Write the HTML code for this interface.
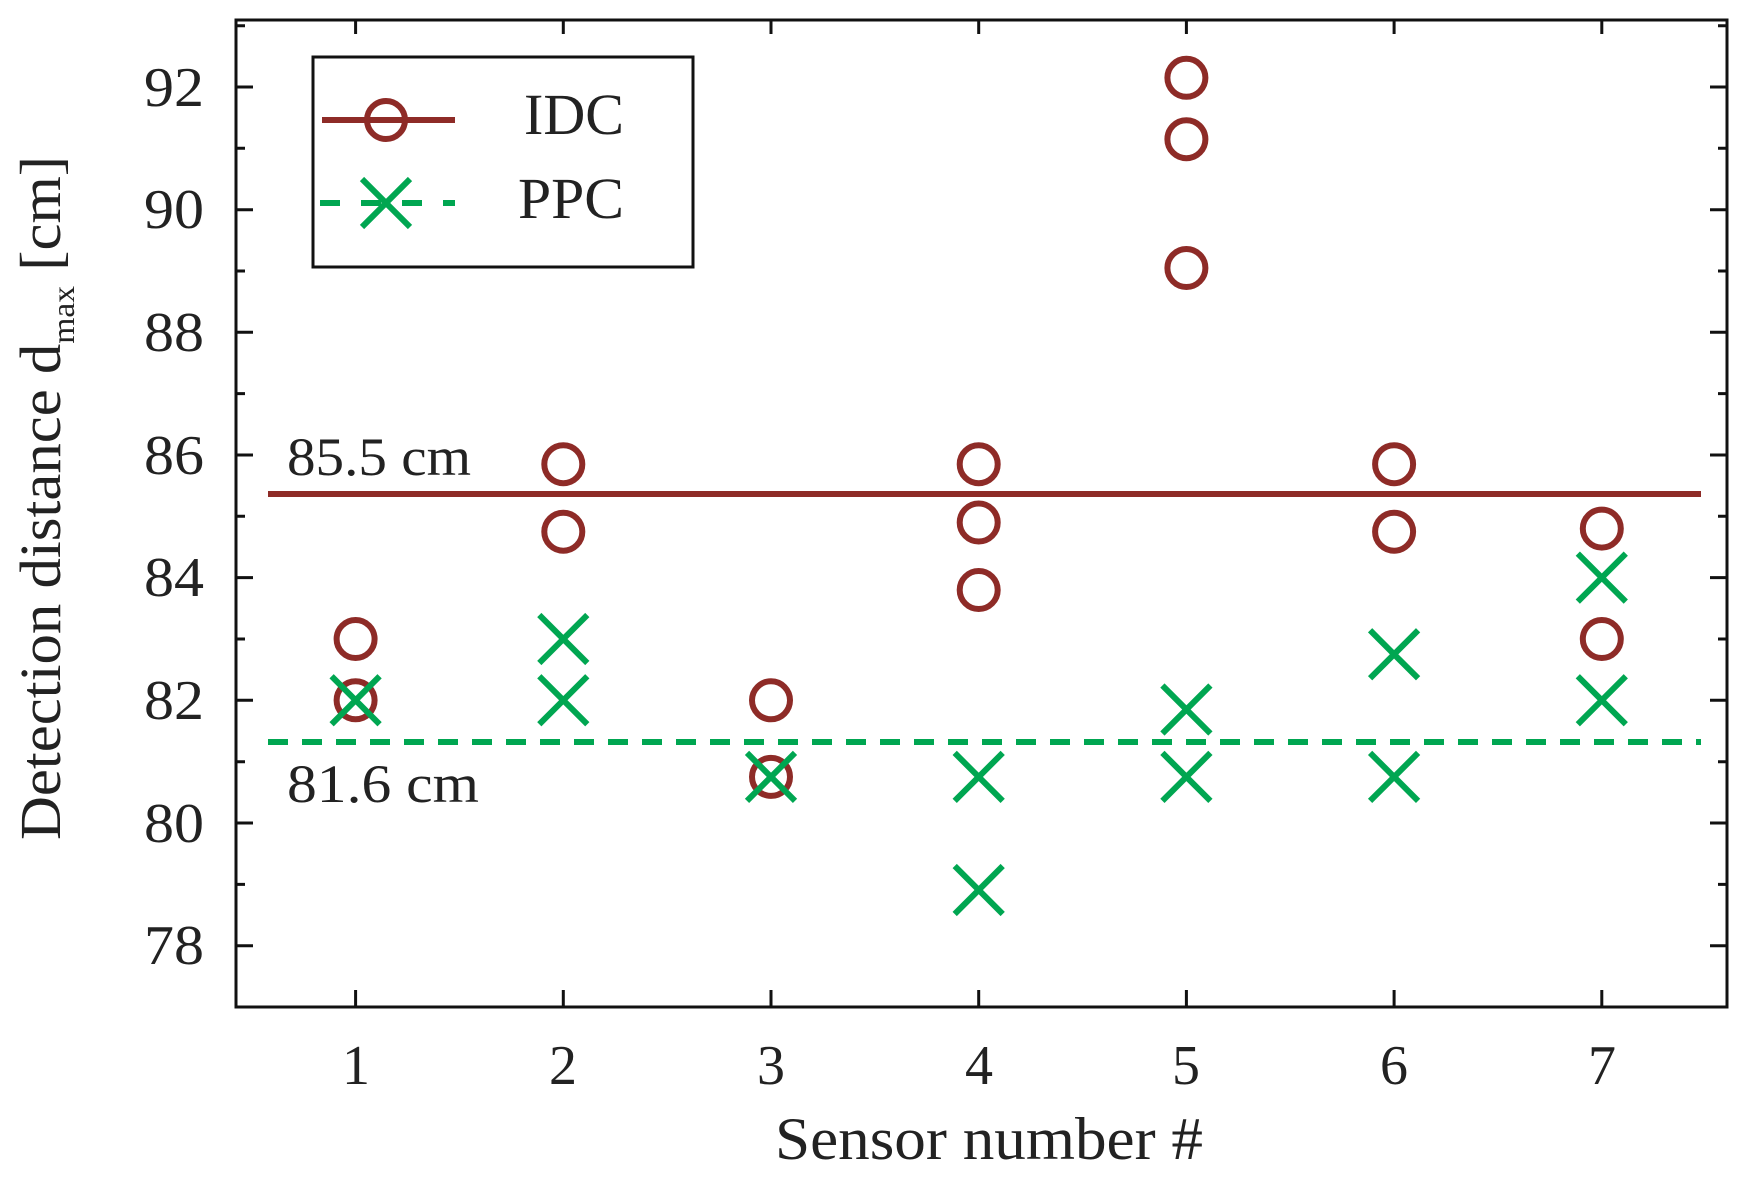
<!DOCTYPE html>
<html><head><style>body{margin:0;background:#fff}</style></head><body>
<svg width="1752" height="1188" xmlns="http://www.w3.org/2000/svg" font-family="Liberation Serif, serif" fill="#222">
<defs>
<g id="o"><circle r="19" fill="none" stroke="#8E2B27" stroke-width="6"/></g>
<g id="x" stroke="#00A651" stroke-width="6"><line x1="-24" y1="-24" x2="24" y2="24"/><line x1="-24" y1="24" x2="24" y2="-24"/></g>
</defs>
<g stroke="#111" stroke-width="3">
<rect x="236" y="20" width="1491" height="987" fill="none"/>
<path d="M236 945.7h17M236 823h17M236 700.3h17M236 577.6h17M236 455h17M236 332.3h17M236 209.7h17M236 87h17
M1727 945.7h-17M1727 823h-17M1727 700.3h-17M1727 577.6h-17M1727 455h-17M1727 332.3h-17M1727 209.7h-17M1727 87h-17
M236 884.4h9M236 761.7h9M236 639h9M236 516.3h9M236 393.6h9M236 271h9M236 148.3h9M236 25.7h9
M1727 884.4h-9M1727 761.7h-9M1727 639h-9M1727 516.3h-9M1727 393.6h-9M1727 271h-9M1727 148.3h-9M1727 25.7h-9
M355.6 1007v-17M563.3 1007v-17M771 1007v-17M978.7 1007v-17M1186.4 1007v-17M1394.1 1007v-17M1601.8 1007v-17
M355.6 20v14M563.3 20v14M771 20v14M978.7 20v14M1186.4 20v14M1394.1 20v14M1601.8 20v14"/>
</g>
<g font-size="56" text-anchor="end">
<text x="204" y="964" textLength="60" lengthAdjust="spacingAndGlyphs">78</text>
<text x="204" y="842" textLength="60" lengthAdjust="spacingAndGlyphs">80</text>
<text x="204" y="719" textLength="60" lengthAdjust="spacingAndGlyphs">82</text>
<text x="204" y="596" textLength="60" lengthAdjust="spacingAndGlyphs">84</text>
<text x="204" y="474" textLength="60" lengthAdjust="spacingAndGlyphs">86</text>
<text x="204" y="351" textLength="60" lengthAdjust="spacingAndGlyphs">88</text>
<text x="204" y="228" textLength="60" lengthAdjust="spacingAndGlyphs">90</text>
<text x="204" y="106" textLength="60" lengthAdjust="spacingAndGlyphs">92</text>
</g>
<g font-size="56" text-anchor="middle">
<text x="356" y="1084">1</text><text x="563" y="1084">2</text><text x="771" y="1084">3</text><text x="979" y="1084">4</text><text x="1186" y="1084">5</text><text x="1394" y="1084">6</text><text x="1602" y="1084">7</text>
</g>
<text x="775" y="1159" font-size="60" textLength="428" lengthAdjust="spacingAndGlyphs">Sensor number #</text>
<text transform="translate(60,840) rotate(-90)" font-size="58" textLength="684" lengthAdjust="spacingAndGlyphs">Detection distance d<tspan font-size="32" dy="14">max</tspan><tspan dy="-14"> [cm]</tspan></text>
<line x1="268" y1="494" x2="1701" y2="494" stroke="#8E2B27" stroke-width="6"/>
<line x1="268" y1="742" x2="1701" y2="742" stroke="#00A651" stroke-width="6" stroke-dasharray="20 14"/>
<text x="287" y="475" font-size="54" textLength="184" lengthAdjust="spacingAndGlyphs">85.5 cm</text>
<text x="287" y="802" font-size="54" textLength="192" lengthAdjust="spacingAndGlyphs">81.6 cm</text>
<g>
<use href="#o" x="355.6" y="639"/><use href="#o" x="355.6" y="700.3"/>
<use href="#o" x="563.3" y="464.2"/><use href="#o" x="563.3" y="531.7"/>
<use href="#o" x="771" y="700.3"/><use href="#o" x="771" y="776.9"/>
<use href="#o" x="978.7" y="464.2"/><use href="#o" x="978.7" y="522.5"/><use href="#o" x="978.7" y="590"/>
<use href="#o" x="1186.4" y="77.8"/><use href="#o" x="1186.4" y="139.2"/><use href="#o" x="1186.4" y="268"/>
<use href="#o" x="1394.1" y="464.2"/><use href="#o" x="1394.1" y="531.7"/>
<use href="#o" x="1601.8" y="528.6"/><use href="#o" x="1601.8" y="639"/>
</g>
<g>
<use href="#x" x="355.6" y="700.3"/>
<use href="#x" x="563.3" y="639"/><use href="#x" x="563.3" y="700.3"/>
<use href="#x" x="771" y="776.9"/>
<use href="#x" x="978.7" y="776.9"/><use href="#x" x="978.7" y="890"/>
<use href="#x" x="1186.4" y="709.5"/><use href="#x" x="1186.4" y="776.9"/>
<use href="#x" x="1394.1" y="654.3"/><use href="#x" x="1394.1" y="776.9"/>
<use href="#x" x="1601.8" y="577.6"/><use href="#x" x="1601.8" y="700.3"/>
</g>
<rect x="313" y="57" width="380" height="210" fill="#fff" stroke="#111" stroke-width="3"/>
<line x1="322" y1="120" x2="455" y2="120" stroke="#8E2B27" stroke-width="6"/>
<use href="#o" x="386" y="120"/>
<line x1="320" y1="203" x2="455" y2="203" stroke="#00A651" stroke-width="6" stroke-dasharray="20 21"/>
<use href="#x" x="386" y="203"/>
<text x="524" y="134" font-size="58" textLength="100" lengthAdjust="spacingAndGlyphs">IDC</text>
<text x="518" y="218" font-size="58" textLength="106" lengthAdjust="spacingAndGlyphs">PPC</text>
</svg>
</body></html>
